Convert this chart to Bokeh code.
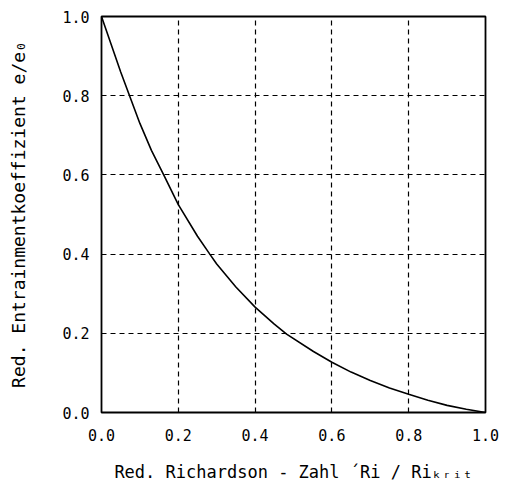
from bokeh.plotting import figure
from bokeh.embed import file_html
from bokeh.resources import INLINE
from bokeh.models import FixedTicker, Range1d

# Data
ri_red = [0.0, 0.025, 0.05, 0.075, 0.1, 0.13, 0.162, 0.2, 0.25, 0.282, 0.3, 0.35, 0.4,
          0.45, 0.482, 0.552, 0.6, 0.65, 0.7, 0.75, 0.8, 0.85, 0.9, 0.95, 1.0]
e_red = [1.0, 0.93, 0.86, 0.795, 0.73, 0.662, 0.6, 0.525, 0.445, 0.4, 0.375, 0.317, 0.266,
         0.223, 0.198, 0.154, 0.127, 0.102, 0.081, 0.062, 0.046, 0.031, 0.018, 0.008, 0.0]
ticks = [0.0, 0.2, 0.4, 0.6, 0.8, 1.0]
tick_labels = {0.0: "0.0", 0.2: "0.2", 0.4: "0.4", 0.6: "0.6", 0.8: "0.8", 1.0: "1.0"}

p = figure(width=509, height=502, output_backend="svg", toolbar_location=None,
           x_range=Range1d(0, 1), y_range=Range1d(0, 1),
           min_border_left=101, min_border_right=24, min_border_top=16, min_border_bottom=90)

p.line(ri_red, e_red, line_color="black", line_width=1.6)

for ax in (p.xaxis[0], p.yaxis[0]):
    ax.ticker = FixedTicker(ticks=ticks)
    ax.major_label_overrides = tick_labels
    ax.major_tick_in = 0
    ax.major_tick_out = 0
    ax.minor_tick_in = 0
    ax.minor_tick_out = 0
    ax.axis_line_color = None
    ax.major_label_text_font = "DejaVu Sans Mono"
    ax.major_label_text_font_size = "15px"
    ax.major_label_text_color = "black"
    ax.axis_label_text_font = "DejaVu Sans Mono"
    ax.axis_label_text_font_style = "normal"
    ax.axis_label_text_color = "black"

p.xaxis.axis_label_text_font_size = "17px"
p.yaxis.axis_label_text_font_size = "18px"
p.xaxis.axis_label = "Red. Richardson - Zahl ´Ri / Riₖᵣᵢₜ"
p.yaxis.axis_label = "Red. Entrainmentkoeffizient e/e₀"
p.xaxis.major_label_standoff = 16
p.yaxis.major_label_standoff = 12
p.xaxis.axis_label_standoff = 18
p.yaxis.axis_label_standoff = 30

p.grid.grid_line_color = "black"
p.grid.grid_line_dash = "5 4"
p.grid.grid_line_width = 1.2
p.xgrid.ticker = FixedTicker(ticks=ticks)
p.ygrid.ticker = FixedTicker(ticks=ticks)

p.outline_line_color = "black"
p.outline_line_width = 1.8
p.background_fill_color = "white"
p.border_fill_color = "white"

open("out.html", "w").write(file_html(p, INLINE))
